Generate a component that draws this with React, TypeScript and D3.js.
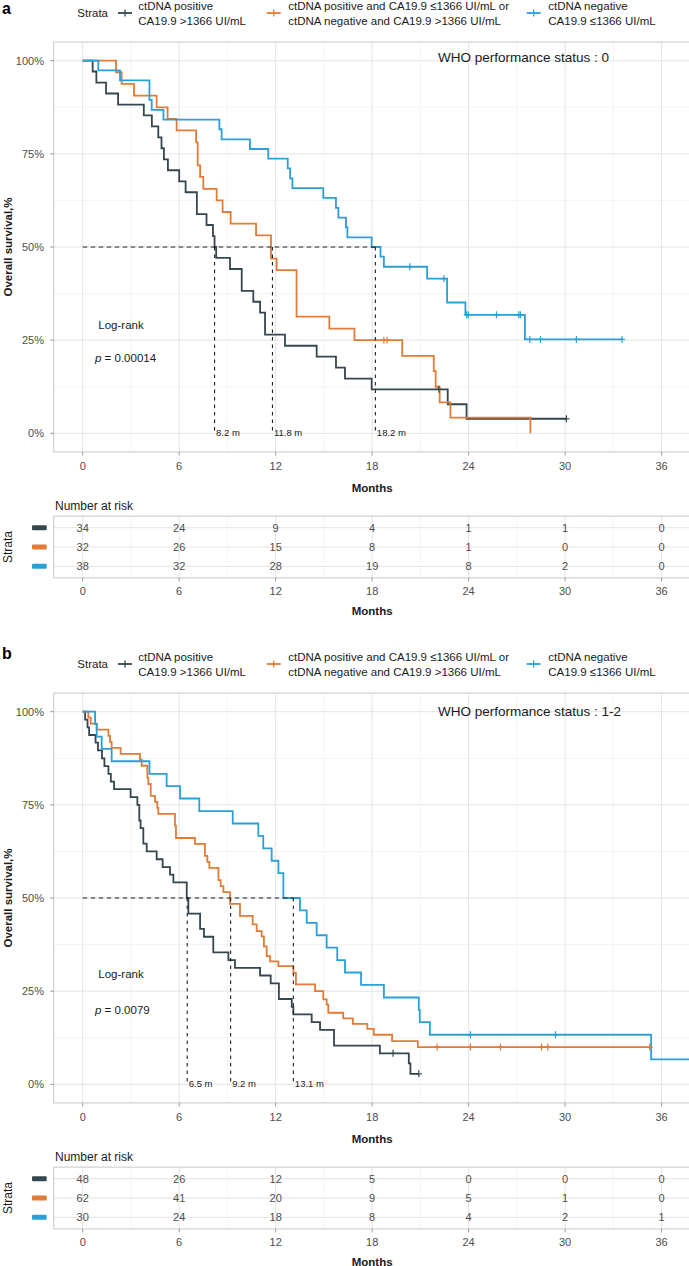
import React from "react";
import * as d3 from "d3";

const FONT = "'Liberation Sans', Arial, Helvetica, sans-serif";

// ---------- shared axes ----------
const monthTicks = [0, 6, 12, 18, 24, 30, 36];
const monthMinor = [3, 9, 15, 21, 27, 33];
const survTicks = [0, 0.25, 0.5, 0.75, 1];
const survMinor = [0.125, 0.375, 0.625, 0.875];
const survTickLabels = ["0%", "25%", "50%", "75%", "100%"];

// ---------- strata ----------
const strataColors = ["#34464E", "#E27B35", "#2A9FD8"];
const legendLine1 = ["ctDNA positive", "ctDNA positive and CA19.9 \u22641366 UI/mL or", "ctDNA negative"];
const legendLine2 = ["CA19.9 >1366 UI/mL", "ctDNA negative and CA19.9 >1366 UI/mL", "CA19.9 \u22641366 UI/mL"];

// ---------- panel a : WHO PS 0 ----------
const aDarkT = [0.62, 0.85, 1.45, 2.2, 3.8, 4.3, 4.7, 4.9, 5.05, 5.3, 6.0, 6.4, 7.1, 7.7, 8.1, 8.2, 8.3, 9.16, 9.89, 10.61, 11.03, 11.34, 12.58, 14.55, 15.75, 16.31, 17.97, 22.7, 23.87];
const aDarkS = [0.971, 0.941, 0.912, 0.882, 0.853, 0.824, 0.794, 0.765, 0.735, 0.706, 0.676, 0.647, 0.588, 0.559, 0.529, 0.5, 0.471, 0.441, 0.382, 0.353, 0.324, 0.265, 0.235, 0.206, 0.176, 0.147, 0.118, 0.078, 0.039];
const aDarkCens = [22.15, 30.08];
const aOrangeT = [2.07, 2.42, 3.19, 4.6, 5.28, 5.84, 7.05, 7.15, 7.3, 7.5, 8.33, 8.7, 9.2, 10.78, 11.71, 12.06, 13.3, 15.34, 16.9, 19.87, 21.83, 21.95, 22.2, 22.87, 27.84];
const aOrangeS = [0.969, 0.938, 0.906, 0.875, 0.844, 0.813, 0.781, 0.719, 0.688, 0.656, 0.625, 0.594, 0.563, 0.531, 0.469, 0.438, 0.313, 0.281, 0.25, 0.208, 0.167, 0.125, 0.083, 0.042, 0];
const aOrangeCens = [18.73, 18.93];
const aBlueT = [0.97, 2.32, 4.15, 4.29, 5.02, 8.5, 8.64, 10.4, 11.54, 12.75, 12.9, 13.04, 14.96, 15.75, 15.9, 16.37, 16.46, 17.97, 18.52, 18.73, 21.42, 22.66, 23.8, 27.5];
const aBlueS = [0.974, 0.947, 0.895, 0.868, 0.842, 0.816, 0.789, 0.763, 0.737, 0.711, 0.684, 0.658, 0.632, 0.605, 0.579, 0.553, 0.526, 0.5, 0.474, 0.447, 0.415, 0.351, 0.318, 0.252];
const aBlueCens = [20.34, 22.46, 23.88, 23.98, 25.73, 27.12, 27.22, 27.8, 28.47, 30.7, 33.54];
const aEnd = [30.08, 27.84, 33.54];
const aRiskDark = [34, 24, 9, 4, 1, 1, 0];
const aRiskOrange = [32, 26, 15, 8, 1, 0, 0];
const aRiskBlue = [38, 32, 28, 19, 8, 2, 0];
const aMedians = [8.2, 11.8, 18.2];
const aTitle = "WHO performance status : 0";
const aPValue = "0.00014";

// ---------- panel b : WHO PS 1-2 ----------
const bDarkT = [0.15, 0.3, 0.4, 0.8, 0.95, 1.2, 1.35, 1.6, 1.75, 1.95, 2.98, 3.4, 3.52, 3.6, 3.77, 3.98, 4.6, 4.97, 5.43, 5.64, 6.47, 6.57, 7.3, 7.54, 8.12, 9.06, 9.47, 11.03, 11.69, 12.2, 13.0, 13.1, 14.24, 14.76, 15.63, 18.48, 20.28, 20.38];
const bDarkS = [0.979, 0.958, 0.9375, 0.917, 0.896, 0.875, 0.854, 0.833, 0.8125, 0.792, 0.771, 0.75, 0.708, 0.6875, 0.646, 0.625, 0.604, 0.583, 0.5625, 0.542, 0.5, 0.458, 0.417, 0.396, 0.354, 0.333, 0.3125, 0.292, 0.271, 0.229, 0.208, 0.1875, 0.167, 0.146, 0.104, 0.083, 0.056, 0.028];
const bDarkCens = [19.3, 20.9];
const bOrangeT = [0.35, 0.5, 0.87, 1.6, 1.7, 1.8, 2.36, 3.56, 3.67, 4.02, 4.08, 4.23, 4.5, 4.64, 4.7, 5.74, 5.8, 6.98, 7.6, 7.75, 7.88, 8.44, 8.58, 8.75, 9.16, 9.78, 10.57, 10.82, 11.13, 11.27, 11.44, 11.65, 12.17, 13.1, 13.26, 14.45, 14.96, 15.17, 15.27, 16.2, 16.8, 17.7, 18.1, 19.24, 20.84];
const bOrangeS = [0.984, 0.968, 0.952, 0.935, 0.919, 0.903, 0.887, 0.871, 0.855, 0.823, 0.806, 0.774, 0.758, 0.742, 0.726, 0.694, 0.661, 0.645, 0.613, 0.597, 0.581, 0.548, 0.532, 0.516, 0.484, 0.452, 0.429, 0.411, 0.397, 0.37, 0.344, 0.33, 0.317, 0.299, 0.268, 0.25, 0.228, 0.214, 0.192, 0.177, 0.162, 0.149, 0.133, 0.116, 0.1];
const bOrangeCens = [22.04, 24.11, 25.98, 28.53, 28.92, 35.26];
const bBlueT = [0.77, 0.87, 1.18, 1.8, 4.15, 5.22, 6.05, 7.25, 9.33, 10.92, 11.23, 11.75, 12.17, 12.48, 13.51, 13.93, 14.55, 15.17, 15.83, 16.31, 17.31, 18.73, 20.9, 20.96, 21.59, 35.35];
const bBlueS = [0.967, 0.933, 0.9, 0.867, 0.833, 0.8, 0.767, 0.733, 0.7, 0.667, 0.633, 0.6, 0.567, 0.5, 0.467, 0.433, 0.4, 0.367, 0.333, 0.3, 0.267, 0.233, 0.2, 0.167, 0.133, 0.067];
const bBlueCens = [24.11, 29.4];
const bEnd = [20.9, 35.26, 38.6];
const bRiskDark = [48, 26, 12, 5, 0, 0, 0];
const bRiskOrange = [62, 41, 20, 9, 5, 1, 0];
const bRiskBlue = [30, 24, 18, 8, 4, 2, 1];
const bMedians = [6.5, 9.2, 13.1];
const bTitle = "WHO performance status : 1-2";
const bPValue = "0.0079";

const OFFSET_B = 651;

type Curve = { t: number[]; s: number[]; cens: number[]; end: number };

function levelAt(c: Curve, time: number) {
  let lv = 1;
  for (let i = 0; i < c.t.length; i++) if (c.t[i] <= time) lv = c.s[i];
  return lv;
}

function Legend({ oy }: { oy: number }) {
  const keyX = [118, 266.7, 526.7];
  const textX = [138.3, 288.3, 548.3];
  return (
    <g fontFamily={FONT} fontSize={11.5} fill="#1a1a1a">
      <text x={77.3} y={oy + 17}>Strata</text>
      {strataColors.map((c, i) => (
        <g key={i}>
          <line x1={keyX[i]} x2={keyX[i] + 14} y1={oy + 13} y2={oy + 13} stroke={c} strokeWidth={1.8} />
          <line x1={keyX[i] + 7} x2={keyX[i] + 7} y1={oy + 9.5} y2={oy + 16.5} stroke={c} strokeWidth={1.3} />
          <text x={textX[i]} y={oy + 10.3}>{legendLine1[i]}</text>
          <text x={textX[i]} y={oy + 25}>{legendLine2[i]}</text>
        </g>
      ))}
    </g>
  );
}

function KMPanel(props: {
  oy: number; curves: Curve[]; risk: number[][]; medians: number[]; title: string; titleY: number;
  pval: string; logRankY: number; pY: number; id: string;
}) {
  const { oy, curves, risk, medians, title, titleY, pval, logRankY, pY, id } = props;
  const x = d3.scaleLinear().domain([0, 36]).range([82.7, 661.6]);
  const y = d3.scaleLinear().domain([0, 1]).range([433.3 + oy, 60.7 + oy]);
  const left = x(-1.8), right = x(37.8), top = y(1.05), bottom = y(-0.05);
  const line = d3.line<[number, number]>().x((d) => x(d[0])).y((d) => y(d[1])).curve(d3.curveStepAfter);

  const rowY = d3.scalePoint<number>().domain([0, 1, 2]).range([527.7 + oy, 566.3 + oy]);
  const step = rowY.step();
  const tTop = rowY(0)! - 0.6 * step, tBottom = rowY(2)! + 0.6 * step;
  const maxMed = d3.max(medians)!;

  const gridMajor = "#E4E4E4", gridMinor = "#F1F1F1", border = "#C9C9C9", tickCol = "#9A9A9A", lab = "#4D4D4D";

  return (
    <g fontFamily={FONT}>
      <defs>
        <clipPath id={"clip" + id}><rect x={left} y={top} width={right - left} height={bottom - top} /></clipPath>
      </defs>
      {/* grid */}
      {monthMinor.map((m) => <line key={"vm" + m} x1={x(m)} x2={x(m)} y1={top} y2={bottom} stroke={gridMinor} strokeWidth={0.8} />)}
      {survMinor.map((s) => <line key={"hm" + s} x1={left} x2={right} y1={y(s)} y2={y(s)} stroke={gridMinor} strokeWidth={0.8} />)}
      {monthTicks.map((m) => <line key={"vM" + m} x1={x(m)} x2={x(m)} y1={top} y2={bottom} stroke={gridMajor} strokeWidth={1} />)}
      {survTicks.map((s) => <line key={"hM" + s} x1={left} x2={right} y1={y(s)} y2={y(s)} stroke={gridMajor} strokeWidth={1} />)}
      <rect x={left} y={top} width={right - left} height={bottom - top} fill="none" stroke={border} strokeWidth={1} />

      {/* title */}
      <text x={438} y={titleY} fontSize={13.5} fill="#1a1a1a">{title}</text>

      {/* curves */}
      <g clipPath={`url(#clip${id})`}>
        {curves.map((c, i) => {
          const pts: [number, number][] = [[0, 1]];
          c.t.forEach((t, k) => pts.push([t, c.s[k]]));
          pts.push([c.end, c.s[c.s.length - 1]]);
          return <path key={i} d={line(pts)!} fill="none" stroke={strataColors[i]} strokeWidth={1.8} />;
        })}
        {curves.map((c, i) =>
          c.cens.map((ct, k) => {
            const lv = levelAt(c, ct);
            return (
              <g key={i + "-" + k} stroke={strataColors[i]} strokeWidth={1.2}>
                <line x1={x(ct)} x2={x(ct)} y1={y(lv) - 3.5} y2={y(lv) + 3.5} />
                <line x1={x(ct) - 3} x2={x(ct) + 3} y1={y(lv)} y2={y(lv)} />
              </g>
            );
          })
        )}
      </g>

      {/* median lines */}
      <line x1={x(0)} x2={x(maxMed)} y1={y(0.5)} y2={y(0.5)} stroke="#1f1f1f" strokeWidth={1.1} strokeDasharray="4.5 3.5" />
      {medians.map((m) => (
        <g key={"med" + m}>
          <line x1={x(m)} x2={x(m)} y1={y(0.5)} y2={y(0)} stroke="#1f1f1f" strokeWidth={1.1} strokeDasharray="3.5 4" />
          <text x={x(m) + 1.5} y={y(0) + 2.5} fontSize={9.5} fill="#1a1a1a">{m + " m"}</text>
        </g>
      ))}

      {/* log-rank */}
      <text x={98.3} y={logRankY} fontSize={11.5} fill="#1a1a1a">Log-rank</text>
      <text x={95} y={pY} fontSize={11.5} fill="#1a1a1a"><tspan fontStyle="italic">p</tspan>{" = " + pval}</text>

      {/* y axis */}
      {survTicks.map((s, i) => (
        <g key={"yt" + s}>
          <line x1={left - 3.5} x2={left} y1={y(s)} y2={y(s)} stroke={tickCol} strokeWidth={1} />
          <text x={44} y={y(s) + 4} textAnchor="end" fontSize={11} fill={lab}>{survTickLabels[i]}</text>
        </g>
      ))}
      <text transform={`translate(11.5,${(top + bottom) / 2}) rotate(-90)`} textAnchor="middle" fontSize={11.5} fontWeight="bold" fill="#1a1a1a">Overall survival,%</text>

      {/* x axis */}
      {monthTicks.map((m) => (
        <g key={"xt" + m}>
          <line x1={x(m)} x2={x(m)} y1={bottom} y2={bottom + 3.5} stroke={tickCol} strokeWidth={1} />
          <text x={x(m)} y={470 + oy} textAnchor="middle" fontSize={11} fill={lab}>{m}</text>
        </g>
      ))}
      <text x={(left + right) / 2} y={492 + oy} textAnchor="middle" fontSize={11.5} fontWeight="bold" fill="#1a1a1a">Months</text>

      {/* risk table */}
      <text x={55} y={510 + oy} fontSize={12} fill="#1a1a1a">Number at risk</text>
      {monthMinor.map((m) => <line key={"rvm" + m} x1={x(m)} x2={x(m)} y1={tTop} y2={tBottom} stroke={gridMinor} strokeWidth={0.8} />)}
      {monthTicks.map((m) => <line key={"rvM" + m} x1={x(m)} x2={x(m)} y1={tTop} y2={tBottom} stroke={gridMajor} strokeWidth={1} />)}
      {[0, 1, 2].map((r) => <line key={"rh" + r} x1={left} x2={right} y1={rowY(r)} y2={rowY(r)} stroke={gridMajor} strokeWidth={1} />)}
      <rect x={left} y={tTop} width={right - left} height={tBottom - tTop} fill="none" stroke={border} strokeWidth={1} />
      {risk.map((row, r) => (
        <g key={"rr" + r}>
          <rect x={32} y={rowY(r)! - 2.5} width={14.7} height={5} rx={1} fill={strataColors[r]} />
          {row.map((n, k) => (
            <text key={k} x={x(monthTicks[k])} y={rowY(r)! + 4} textAnchor="middle" fontSize={11} fill={lab}>{n}</text>
          ))}
        </g>
      ))}
      <text transform={`translate(11.5,${(tTop + tBottom) / 2}) rotate(-90)`} textAnchor="middle" fontSize={12} fill="#1a1a1a">Strata</text>
      {monthTicks.map((m) => (
        <g key={"rxt" + m}>
          <line x1={x(m)} x2={x(m)} y1={tBottom} y2={tBottom + 3.5} stroke={tickCol} strokeWidth={1} />
          <text x={x(m)} y={595 + oy} textAnchor="middle" fontSize={11} fill={lab}>{m}</text>
        </g>
      ))}
      <text x={(left + right) / 2} y={614.5 + oy} textAnchor="middle" fontSize={11.5} fontWeight="bold" fill="#1a1a1a">Months</text>
    </g>
  );
}

export default function App() {
  const aCurves: Curve[] = [
    { t: aDarkT, s: aDarkS, cens: aDarkCens, end: aEnd[0] },
    { t: aOrangeT, s: aOrangeS, cens: aOrangeCens, end: aEnd[1] },
    { t: aBlueT, s: aBlueS, cens: aBlueCens, end: aEnd[2] },
  ];
  const bCurves: Curve[] = [
    { t: bDarkT, s: bDarkS, cens: bDarkCens, end: bEnd[0] },
    { t: bOrangeT, s: bOrangeS, cens: bOrangeCens, end: bEnd[1] },
    { t: bBlueT, s: bBlueS, cens: bBlueCens, end: bEnd[2] },
  ];
  return (
    <svg width={689} height={1266} style={{ position: "absolute", left: 0, top: 0, background: "#fff" }}>
      <rect x={0} y={0} width={689} height={1266} fill="#fff" />
      <text x={2} y={14} fontFamily={FONT} fontSize={16} fontWeight="bold">a</text>
      <Legend oy={0} />
      <KMPanel oy={0} curves={aCurves} risk={[aRiskDark, aRiskOrange, aRiskBlue]} medians={aMedians}
        title={aTitle} titleY={62} pval={aPValue} logRankY={328.5} pY={362} id="a" />
      <text x={2} y={659} fontFamily={FONT} fontSize={16} fontWeight="bold">b</text>
      <Legend oy={OFFSET_B} />
      <KMPanel oy={OFFSET_B} curves={bCurves} risk={[bRiskDark, bRiskOrange, bRiskBlue]} medians={bMedians}
        title={bTitle} titleY={715.5} pval={bPValue} logRankY={978} pY={1014} id="b" />
    </svg>
  );
}
